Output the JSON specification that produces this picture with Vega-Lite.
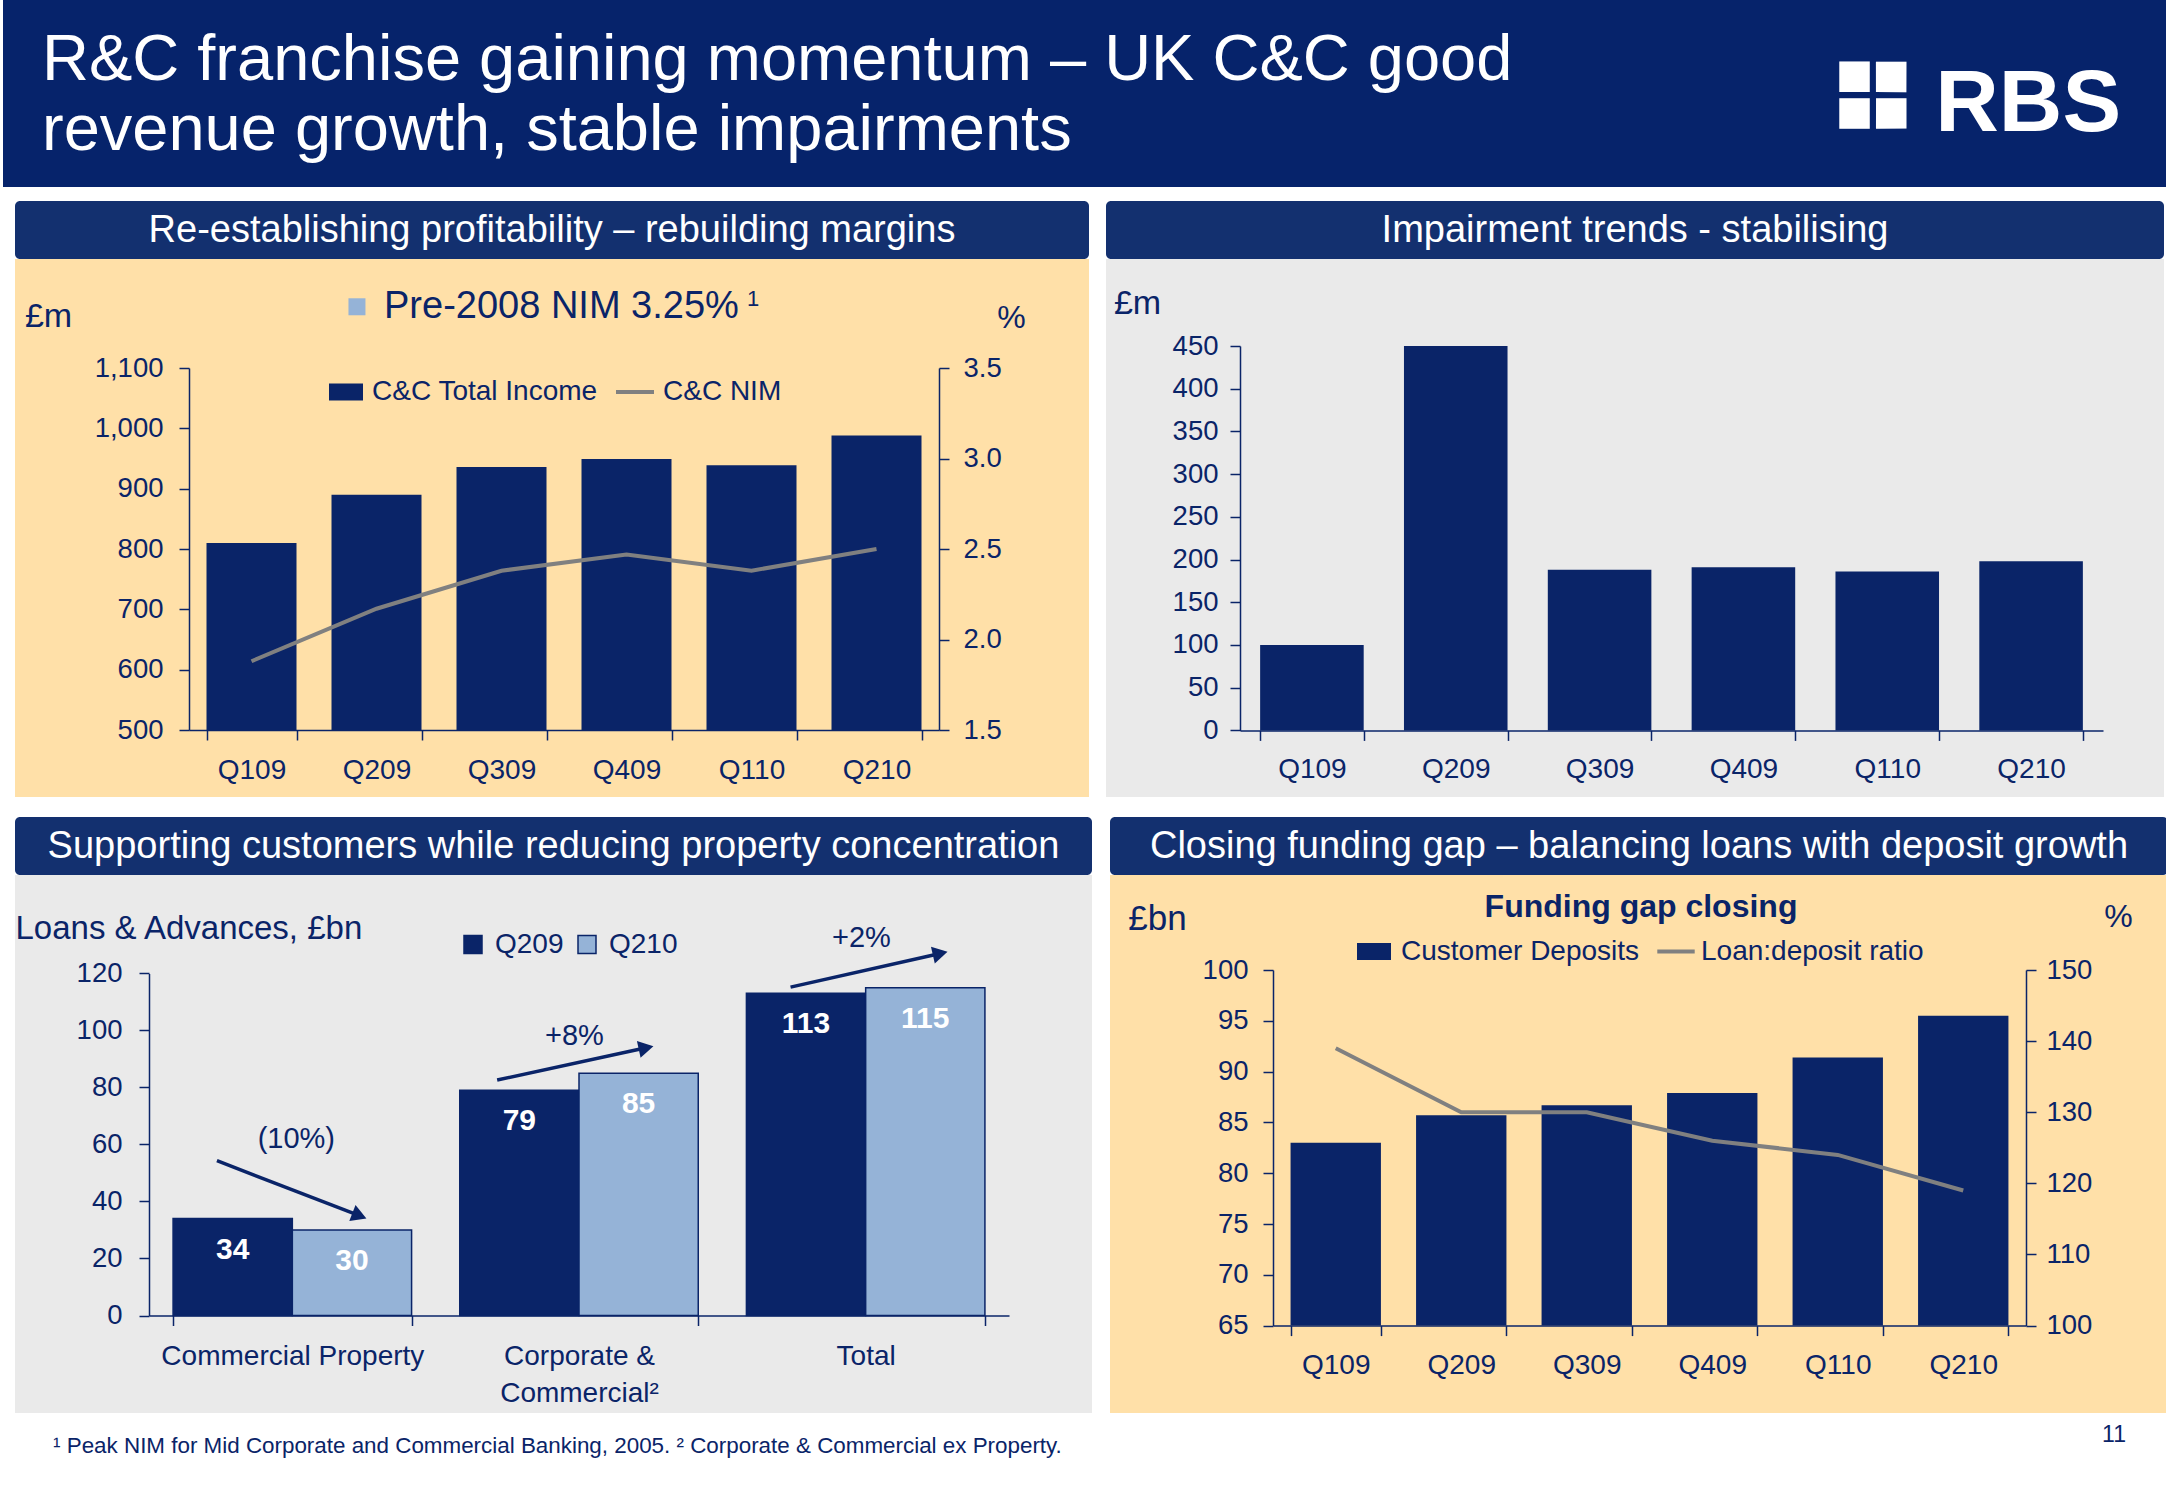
{
"$schema":"https://vega.github.io/schema/vega-lite/v6.json",
"padding":0,
"background":"#FFFFFF",
"spacing":9,
"config":{
 "font":"Liberation Sans",
 "view":{"stroke":null},
 "axis":{"domainColor":"#0A2468","tickColor":"#0A2468","labelColor":"#0A2468","titleColor":"#0A2468","labelFontSize":27.5,"titleFontWeight":"normal","domainWidth":1.5,"tickWidth":1.5,"tickSize":10,"grid":false,"labelFont":"Liberation Sans","titleFont":"Liberation Sans","labelLimit":400},
 "legend":{"labelFontSize":28,"labelColor":"#0A2468","labelFont":"Liberation Sans","padding":0,"labelLimit":500,"symbolOpacity":1},
 "text":{"font":"Liberation Sans"}
},
"vconcat":[
 {
  "width":2166,"height":187,
  "view":{"fill":"#06236B","stroke":null},
  "data":{"values":[{}]},
  "layer":[
   {"mark":{"type":"text","text":"R&C franchise gaining momentum – UK C&C good","align":"left","baseline":"middle","fontSize":65,"color":"#FFFFFF"},
    "encoding":{"x":{"datum":0.018,"type":"quantitative","scale":{"domain":[0,1]},"axis":null},"y":{"datum":0.32,"type":"quantitative","scale":{"domain":[0,1],"reverse":true},"axis":null}}},
   {"mark":{"type":"text","text":"revenue growth, stable impairments","align":"left","baseline":"middle","fontSize":65,"color":"#FFFFFF"},
    "encoding":{"x":{"datum":0.018,"type":"quantitative","scale":{"domain":[0,1]},"axis":null},"y":{"datum":0.694,"type":"quantitative","scale":{"domain":[0,1],"reverse":true},"axis":null}}},
   {"mark":{"type":"text","text":"RBS","align":"center","baseline":"middle","fontSize":88,"fontWeight":"bold","color":"#FFFFFF"},
    "encoding":{"x":{"datum":0.935,"type":"quantitative","scale":{"domain":[0,1]},"axis":null},"y":{"datum":0.56,"type":"quantitative","scale":{"domain":[0,1],"reverse":true},"axis":null}}},
   {"mark":{"type":"text","text":"❖","align":"center","baseline":"middle","fontSize":130,"angle":45,"font":"DejaVu Sans","color":"#FFFFFF"},
    "encoding":{"x":{"datum":0.8606,"type":"quantitative","scale":{"domain":[0,1]},"axis":null},"y":{"datum":0.54,"type":"quantitative","scale":{"domain":[0,1],"reverse":true},"axis":null}}}
  ]
 },
 {
  "hconcat":[
   {"width":1,"height":1,"data":{"values":[{}]},"mark":{"type":"point","opacity":0},"encoding":{}},
   {"vconcat":[
     {"hconcat":[
       {"vconcat":[
         {"width":1074,"height":58,"view":{"fill":"#13306F","stroke":null,"cornerRadius":5},"data":{"values":[{}]},
          "mark":{"type":"text","text":"Re-establishing profitability – rebuilding margins","color":"#FFFFFF","fontSize":38,"baseline":"middle","dy":1},"encoding":{}},
         {
          "width":1074,"height":538,
          "view":{"fill":"#FFE0A8","stroke":null},
          "data":{"values":[
            {"q":"Q109","income":810,"nim":1.88},
            {"q":"Q209","income":890,"nim":2.17},
            {"q":"Q309","income":936,"nim":2.38},
            {"q":"Q409","income":949,"nim":2.47},
            {"q":"Q110","income":939,"nim":2.38},
            {"q":"Q210","income":988,"nim":2.50}
          ]},
          "resolve":{"scale":{"x":"independent","y":"independent"}},
          "layer":[
           {"mark":{"type":"bar"},
            "encoding":{
             "x":{"field":"q","type":"nominal","sort":["Q109","Q209","Q309","Q409","Q110","Q210"],"scale":{"range":[174,924],"paddingInner":0.28,"paddingOuter":0.14},
                  "axis":{"orient":"bottom","offset":-67,"title":null,"labelAngle":0,"tickBand":"extent","labelPadding":16,"labelFontSize":28}},
             "y":{"field":"income","type":"quantitative","scale":{"domain":[500,1100],"range":[471,109],"nice":false,"zero":false},
                  "axis":{"orient":"left","offset":-174,"values":[500,600,700,800,900,1000,1100],"format":",.0f","labelPadding":16,"title":"£m","titleX":-141,"titleY":57,"titleAngle":0,"titleAlign":"center","titleBaseline":"middle","titleFontSize":34}},
             "y2":{"datum":500},
             "fill":{"datum":"C&C Total Income","type":"nominal","scale":{"range":["#0A2468"]},
                     "legend":{"orient":"none","legendX":314,"legendY":116,"title":null,"symbolType":"M-1,-0.5H1V0.5H-1Z","symbolSize":1156,"symbolStrokeWidth":0,"labelOffset":9}}
            }},
           {"mark":{"type":"line","strokeWidth":4},
            "encoding":{
             "x":{"field":"q","type":"nominal","sort":["Q109","Q209","Q309","Q409","Q110","Q210"],"scale":{"range":[174,924],"paddingInner":0.28,"paddingOuter":0.14},"axis":null},
             "y":{"field":"nim","type":"quantitative","scale":{"domain":[1.5,3.5],"range":[471,109],"nice":false,"zero":false},
                  "axis":{"orient":"right","offset":-150,"values":[1.5,2,2.5,3,3.5],"format":".1f","labelPadding":14,"title":"%","titleX":72,"titleY":58,"titleAngle":0,"titleAlign":"center","titleBaseline":"middle","titleFontSize":32}},
             "stroke":{"datum":"C&C NIM","type":"nominal","scale":{"range":["#808080"]},
                       "legend":{"orient":"none","legendX":599,"legendY":112,"title":null,"symbolType":"stroke","symbolSize":1444,"symbolStrokeWidth":4,"labelOffset":7}}
            }},
           {"data":{"values":[{}]},"mark":{"type":"square","color":"#95B3D7","size":289,"opacity":1},
            "encoding":{"x":{"datum":0.3184,"type":"quantitative","scale":{"domain":[0,1]},"axis":null},"y":{"datum":0.0888,"type":"quantitative","scale":{"domain":[0,1],"reverse":true},"axis":null}}},
           {"data":{"values":[{}]},"mark":{"type":"text","text":"Pre-2008 NIM 3.25%","align":"left","baseline":"middle","fontSize":38,"color":"#0A2468"},
            "encoding":{"x":{"datum":0.3436,"type":"quantitative","scale":{"domain":[0,1]},"axis":null},"y":{"datum":0.0887,"type":"quantitative","scale":{"domain":[0,1],"reverse":true},"axis":null}}},
           {"data":{"values":[{}]},"mark":{"type":"text","text":"1","align":"center","baseline":"middle","fontSize":22,"color":"#0A2468"},
            "encoding":{"x":{"datum":0.6872,"type":"quantitative","scale":{"domain":[0,1]},"axis":null},"y":{"datum":0.0743,"type":"quantitative","scale":{"domain":[0,1],"reverse":true},"axis":null}}}
          ]
         }
       ],"spacing":0,"bounds":"flush","resolve":{"scale":{"fill":"independent","stroke":"independent","color":"independent"}}},
       {"vconcat":[
         {"width":1058,"height":58,"view":{"fill":"#13306F","stroke":null,"cornerRadius":5},"data":{"values":[{}]},
          "mark":{"type":"text","text":"Impairment trends - stabilising","color":"#FFFFFF","fontSize":38,"baseline":"middle","dy":1},"encoding":{}},
         {
          "width":1058,"height":538,
          "view":{"fill":"#EAEAEA","stroke":null},
          "data":{"values":[
            {"q":"Q109","imp":100},
            {"q":"Q209","imp":450},
            {"q":"Q309","imp":188},
            {"q":"Q409","imp":191},
            {"q":"Q110","imp":186},
            {"q":"Q210","imp":198}
          ]},
          "mark":{"type":"bar","color":"#0A2468"},
          "encoding":{
           "x":{"field":"q","type":"nominal","sort":["Q109","Q209","Q309","Q409","Q110","Q210"],"scale":{"range":[134,997],"paddingInner":0.28,"paddingOuter":0.14},
                "axis":{"orient":"bottom","offset":-66.6,"title":null,"labelAngle":0,"tickBand":"extent","labelPadding":15,"labelFontSize":28}},
           "y":{"field":"imp","type":"quantitative","scale":{"domain":[0,450],"range":[471.4,87],"nice":false},
                "axis":{"orient":"left","offset":-134,"values":[0,50,100,150,200,250,300,350,400,450],"labelPadding":12,"title":"£m","titleX":-103,"titleY":44,"titleAngle":0,"titleAlign":"center","titleBaseline":"middle","titleFontSize":34}},
           "y2":{"datum":0}
          }
         }
       ],"spacing":0,"bounds":"flush"}
     ],"spacing":17},
     {"hconcat":[
       {"vconcat":[
         {"width":1077,"height":58,"view":{"fill":"#13306F","stroke":null,"cornerRadius":5},"data":{"values":[{}]},
          "mark":{"type":"text","text":"Supporting customers while reducing property concentration","color":"#FFFFFF","fontSize":38,"baseline":"middle","dy":1},"encoding":{}},
         {
          "width":1077,"height":538,
          "view":{"fill":"#EAEAEA","stroke":null},
          "data":{"values":[
            {"cat":"Commercial Property","period":"Q209","value":34},
            {"cat":"Commercial Property","period":"Q210","value":30},
            {"cat":"Corporate & Commercial","period":"Q209","value":79},
            {"cat":"Corporate & Commercial","period":"Q210","value":85},
            {"cat":"Total","period":"Q209","value":113},
            {"cat":"Total","period":"Q210","value":115}
          ]},
          "resolve":{"scale":{"x":"independent","y":"independent","xOffset":"independent"}},
          "layer":[
           {"mark":{"type":"bar","stroke":"#0A2468","strokeWidth":1.5},
            "encoding":{
             "x":{"field":"cat","type":"nominal","sort":["Commercial Property","Corporate & Commercial","Total"],"scale":{"type":"band","range":[134,994],"paddingInner":0.168,"paddingOuter":0.084},
                  "axis":{"orient":"bottom","offset":-97.5,"title":null,"labelAngle":0,"tickBand":"extent","labelPadding":17,"labelFontSize":28,"labelLineHeight":37,"labelLimit":400,
                          "labelExpr":"datum.value == 'Corporate & Commercial' ? ['Corporate &', 'Commercial²'] : datum.label"}},
             "xOffset":{"field":"period","type":"nominal","sort":["Q209","Q210"],"scale":{"type":"band","paddingInner":0,"paddingOuter":0}},
             "y":{"field":"value","type":"quantitative","scale":{"domain":[0,120],"range":[440.5,98.4],"nice":false},
                  "axis":{"orient":"left","offset":-134,"values":[0,20,40,60,80,100,120],"labelPadding":17,"title":"Loans & Advances, £bn","titleX":-134,"titleY":53,"titleAngle":0,"titleAlign":"left","titleBaseline":"middle","titleFontSize":33}},
             "y2":{"datum":0},
             "color":{"field":"period","type":"nominal","scale":{"domain":["Q209","Q210"],"range":["#0A2468","#95B3D7"]},
                      "legend":{"orient":"none","legendX":444,"legendY":55.5,"direction":"horizontal","title":null,"symbolType":"square","symbolSize":324,"symbolStrokeColor":"#0A2468","symbolStrokeWidth":1.5,"labelOffset":8,"columnPadding":9}}
            }},
           {"mark":{"type":"text","color":"#FFFFFF","fontWeight":"bold","fontSize":30,"baseline":"middle","dy":31},
            "encoding":{
             "x":{"field":"cat","type":"nominal","sort":["Commercial Property","Corporate & Commercial","Total"],"scale":{"type":"band","range":[134,994],"paddingInner":0.168,"paddingOuter":0.084},"axis":null},
             "xOffset":{"field":"period","type":"nominal","sort":["Q209","Q210"],"scale":{"type":"band","paddingInner":0,"paddingOuter":0}},
             "y":{"field":"value","type":"quantitative","scale":{"domain":[0,120],"range":[440.5,98.4],"nice":false},"axis":null},
             "text":{"field":"value","type":"quantitative"}
            }},
           {"data":{"values":[{}]},"mark":{"type":"rule","color":"#0A2468","strokeWidth":3.5},
            "encoding":{"x":{"datum":0.237,"type":"quantitative","scale":{"domain":[0,3],"range":[134,994]},"axis":null},"x2":{"datum":0.734},"y":{"datum":54.3,"type":"quantitative","scale":{"domain":[0,120],"range":[440.5,98.4],"nice":false},"axis":null},"y2":{"datum":35.0}}},
           {"data":{"values":[{}]},"mark":{"type":"point","shape":"triangle-right","filled":true,"color":"#0A2468","size":300,"angle":21.1,"opacity":1},
            "encoding":{"x":{"datum":0.734,"type":"quantitative","scale":{"domain":[0,3],"range":[134,994]},"axis":null},"y":{"datum":35.0,"type":"quantitative","scale":{"domain":[0,120],"range":[440.5,98.4],"nice":false},"axis":null}}},
           {"data":{"values":[{}]},"mark":{"type":"rule","color":"#0A2468","strokeWidth":3.5},
            "encoding":{"x":{"datum":1.2145,"type":"quantitative","scale":{"domain":[0,3],"range":[134,994]},"axis":null},"x2":{"datum":1.734},"y":{"datum":82.6,"type":"quantitative","scale":{"domain":[0,120],"range":[440.5,98.4],"nice":false},"axis":null},"y2":{"datum":93.9}}},
           {"data":{"values":[{}]},"mark":{"type":"point","shape":"triangle-right","filled":true,"color":"#0A2468","size":300,"angle":-12.2,"opacity":1},
            "encoding":{"x":{"datum":1.734,"type":"quantitative","scale":{"domain":[0,3],"range":[134,994]},"axis":null},"y":{"datum":93.9,"type":"quantitative","scale":{"domain":[0,120],"range":[440.5,98.4],"nice":false},"axis":null}}},
           {"data":{"values":[{}]},"mark":{"type":"rule","color":"#0A2468","strokeWidth":3.5},
            "encoding":{"x":{"datum":2.238,"type":"quantitative","scale":{"domain":[0,3],"range":[134,994]},"axis":null},"x2":{"datum":2.760},"y":{"datum":115.2,"type":"quantitative","scale":{"domain":[0,120],"range":[440.5,98.4],"nice":false},"axis":null},"y2":{"datum":127.0}}},
           {"data":{"values":[{}]},"mark":{"type":"point","shape":"triangle-right","filled":true,"color":"#0A2468","size":300,"angle":-12.7,"opacity":1},
            "encoding":{"x":{"datum":2.760,"type":"quantitative","scale":{"domain":[0,3],"range":[134,994]},"axis":null},"y":{"datum":127.0,"type":"quantitative","scale":{"domain":[0,120],"range":[440.5,98.4],"nice":false},"axis":null}}},
           {"data":{"values":[{}]},"mark":{"type":"text","text":"(10%)","fontSize":29,"color":"#0A2468","baseline":"middle"},
            "encoding":{"x":{"datum":0.514,"type":"quantitative","scale":{"domain":[0,3],"range":[134,994]},"axis":null},"y":{"datum":61.8,"type":"quantitative","scale":{"domain":[0,120],"range":[440.5,98.4],"nice":false},"axis":null}}},
           {"data":{"values":[{}]},"mark":{"type":"text","text":"+8%","fontSize":29,"color":"#0A2468","baseline":"middle"},
            "encoding":{"x":{"datum":1.484,"type":"quantitative","scale":{"domain":[0,3],"range":[134,994]},"axis":null},"y":{"datum":97.9,"type":"quantitative","scale":{"domain":[0,120],"range":[440.5,98.4],"nice":false},"axis":null}}},
           {"data":{"values":[{}]},"mark":{"type":"text","text":"+2%","fontSize":29,"color":"#0A2468","baseline":"middle"},
            "encoding":{"x":{"datum":2.485,"type":"quantitative","scale":{"domain":[0,3],"range":[134,994]},"axis":null},"y":{"datum":132.5,"type":"quantitative","scale":{"domain":[0,120],"range":[440.5,98.4],"nice":false},"axis":null}}}
          ]
         }
       ],"spacing":0,"bounds":"flush","resolve":{"scale":{"fill":"independent","stroke":"independent","color":"independent"}}},
       {"vconcat":[
         {"width":1058,"height":58,"view":{"fill":"#13306F","stroke":null,"cornerRadius":5},"data":{"values":[{}]},
          "mark":{"type":"text","text":"Closing funding gap – balancing loans with deposit growth","color":"#FFFFFF","fontSize":38,"baseline":"middle","dy":1},"encoding":{}},
         {
          "width":1058,"height":538,
          "view":{"fill":"#FFE0A8","stroke":null},
          "data":{"values":[
            {"q":"Q109","dep":83.0,"ldr":139},
            {"q":"Q209","dep":85.7,"ldr":130},
            {"q":"Q309","dep":86.7,"ldr":130},
            {"q":"Q409","dep":87.9,"ldr":126},
            {"q":"Q110","dep":91.4,"ldr":124},
            {"q":"Q210","dep":95.5,"ldr":119}
          ]},
          "resolve":{"scale":{"x":"independent","y":"independent"}},
          "layer":[
           {"mark":{"type":"bar"},
            "encoding":{
             "x":{"field":"q","type":"nominal","sort":["Q109","Q209","Q309","Q409","Q110","Q210"],"scale":{"range":[163,916],"paddingInner":0.28,"paddingOuter":0.14},
                  "axis":{"orient":"bottom","offset":-87.4,"title":null,"labelAngle":0,"tickBand":"extent","labelPadding":16,"labelFontSize":28}},
             "y":{"field":"dep","type":"quantitative","scale":{"domain":[65,100],"range":[450.6,95],"nice":false,"zero":false},
                  "axis":{"orient":"left","offset":-163,"values":[65,70,75,80,85,90,95,100],"labelPadding":15,"title":"£bn","titleX":-116,"titleY":43,"titleAngle":0,"titleAlign":"center","titleBaseline":"middle","titleFontSize":35}},
             "y2":{"datum":65},
             "fill":{"datum":"Customer Deposits","type":"nominal","scale":{"range":["#0A2468"]},
                     "legend":{"orient":"none","legendX":247,"legendY":59.5,"title":null,"symbolType":"M-1,-0.5H1V0.5H-1Z","symbolSize":1156,"symbolStrokeWidth":0,"labelOffset":10}}
            }},
           {"mark":{"type":"line","strokeWidth":4},
            "encoding":{
             "x":{"field":"q","type":"nominal","sort":["Q109","Q209","Q309","Q409","Q110","Q210"],"scale":{"range":[163,916],"paddingInner":0.28,"paddingOuter":0.14},"axis":null},
             "y":{"field":"ldr","type":"quantitative","scale":{"domain":[100,150],"range":[450.6,95],"nice":false,"zero":false},
                  "axis":{"orient":"right","offset":-142,"values":[100,110,120,130,140,150],"labelPadding":10,"title":"%","titleX":92,"titleY":41.5,"titleAngle":0,"titleAlign":"center","titleBaseline":"middle","titleFontSize":32}},
             "stroke":{"datum":"Loan:deposit ratio","type":"nominal","scale":{"range":["#808080"]},
                       "legend":{"orient":"none","legendX":545,"legendY":55.5,"title":null,"symbolType":"stroke","symbolSize":1400,"symbolStrokeWidth":4,"labelOffset":4}}
            }},
           {"data":{"values":[{}]},"mark":{"type":"text","text":"Funding gap closing","align":"center","baseline":"middle","fontSize":32,"fontWeight":"bold","color":"#0A2468"},
            "encoding":{"x":{"datum":0.5019,"type":"quantitative","scale":{"domain":[0,1]},"axis":null},"y":{"datum":0.0593,"type":"quantitative","scale":{"domain":[0,1],"reverse":true},"axis":null}}}
          ]
         }
       ],"spacing":0,"bounds":"flush","resolve":{"scale":{"fill":"independent","stroke":"independent","color":"independent"}}}
     ],"spacing":18}
   ],"spacing":20}
  ],
  "spacing":8
 },
 {
  "width":2166,"height":83,
  "data":{"values":[{}]},
  "layer":[
   {"mark":{"type":"text","text":"¹ Peak NIM for Mid Corporate and Commercial Banking, 2005.  ² Corporate & Commercial ex Property.","align":"left","baseline":"middle","fontSize":22.4,"color":"#0A2468"},
    "encoding":{"x":{"datum":0.0231,"type":"quantitative","scale":{"domain":[0,1]},"axis":null},"y":{"datum":0.29,"type":"quantitative","scale":{"domain":[0,1],"reverse":true},"axis":null}}},
   {"mark":{"type":"text","text":"11","align":"center","baseline":"middle","fontSize":23,"color":"#0A2468"},
    "encoding":{"x":{"datum":0.9746,"type":"quantitative","scale":{"domain":[0,1]},"axis":null},"y":{"datum":0.16,"type":"quantitative","scale":{"domain":[0,1],"reverse":true},"axis":null}}}
  ]
 }
]
}
